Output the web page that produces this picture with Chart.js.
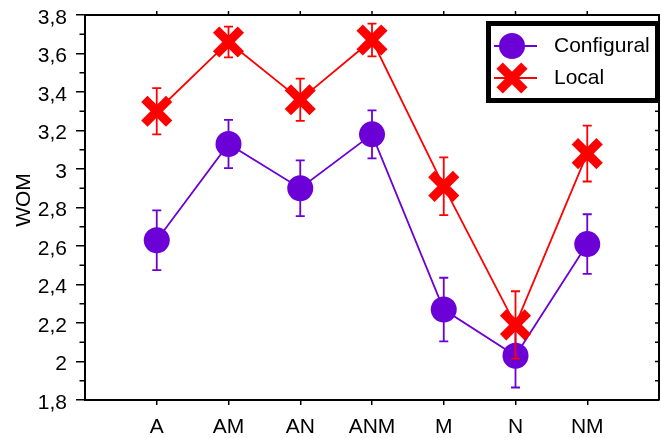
<!DOCTYPE html>
<html lang="en">
<head>
  <meta charset="UTF-8" />
  <title>WOM by condition</title>
  <script src="https://cdn.jsdelivr.net/npm/chart.js"></script>
  <style>
    html, body { margin: 0; padding: 0; background: #fff; }
    #wrap { width: 661px; height: 438px; }
  </style>
</head>
<body>
  <div id="wrap"><canvas id="womChart" width="661" height="438"></canvas></div>

  <script>
    // values
    const categories = ['A', 'AM', 'AN', 'ANM', 'M', 'N', 'NM'];
    const configural = [2.63, 3.13, 2.90, 3.18, 2.27, 2.03, 2.61];
    const configuralErr = [0.155, 0.125, 0.145, 0.125, 0.165, 0.165, 0.155];
    const local = [3.30, 3.66, 3.36, 3.67, 2.91, 2.19, 3.08];
    const localErr = [0.12, 0.08, 0.11, 0.085, 0.15, 0.175, 0.145];
    const yTicks = [1.8, 2.0, 2.2, 2.4, 2.6, 2.8, 3.0, 3.2, 3.4, 3.6, 3.8];

    const FONT = "'Liberation Sans', Arial, sans-serif";
    const PURPLE = '#6b00d7';
    const RED = '#ff0000';

    function fmtTick(v) {
      const r = Math.round(v * 10) / 10;
      return Number.isInteger(r) ? String(r) : r.toFixed(1).replace('.', ',');
    }

    const toPoints = vals => vals.map((v, i) => ({ x: i, y: v }));

    // error bars, frame ticks, axis title and boxed legend
    const extras = {
      id: 'extras',
      afterDatasetDraw(chart, args) {
        const ds = chart.data.datasets[args.index];
        const xs = chart.scales.x, ys = chart.scales.y;
        const ctx = chart.ctx;
        ctx.save();
        ctx.strokeStyle = ds.borderColor;
        ctx.lineWidth = 1.8;
        ds.data.forEach((p, i) => {
          const px = xs.getPixelForValue(p.x);
          const top = ys.getPixelForValue(p.y + ds.err[i]);
          const bot = ys.getPixelForValue(p.y - ds.err[i]);
          ctx.beginPath();
          ctx.moveTo(px, top); ctx.lineTo(px, bot);
          ctx.moveTo(px - 4.5, top); ctx.lineTo(px + 4.5, top);
          ctx.moveTo(px - 4.5, bot); ctx.lineTo(px + 4.5, bot);
          ctx.stroke();
        });
        ctx.restore();
      },
      afterDraw(chart) {
        const ctx = chart.ctx;
        const a = chart.chartArea;
        const xs = chart.scales.x, ys = chart.scales.y;
        ctx.save();
        ctx.strokeStyle = '#000';

        // top and right frame lines
        ctx.lineWidth = 2;
        ctx.beginPath();
        ctx.moveTo(a.left, a.top); ctx.lineTo(a.right, a.top); ctx.lineTo(a.right, a.bottom);
        ctx.stroke();

        // top ticks (outward) and minor ticks
        ctx.lineWidth = 1.5;
        ctx.beginPath();
        categories.forEach((c, i) => {
          const px = xs.getPixelForValue(i);
          ctx.moveTo(px, a.top); ctx.lineTo(px, a.top - 4);
        });
        for (let k = 19; k <= 37; k += 2) {
          const py = ys.getPixelForValue(k / 10);
          ctx.moveTo(a.left, py); ctx.lineTo(a.left - 5.5, py);
        }
        for (let k = 19; k <= 37; k++) {
          const py = ys.getPixelForValue(k / 10);
          ctx.moveTo(a.right, py); ctx.lineTo(a.right - 4, py);
        }
        ctx.stroke();

        // y axis title
        ctx.fillStyle = '#000';
        ctx.font = '21px ' + FONT;
        ctx.textAlign = 'center';
        ctx.textBaseline = 'middle';
        ctx.save();
        ctx.translate(24, 200);
        ctx.rotate(-Math.PI / 2);
        ctx.fillText('WOM', 0, 0);
        ctx.restore();

        // legend box
        ctx.lineWidth = 5;
        ctx.strokeRect(488.5, 23.5, 169, 77);
        const rows = [46, 78];
        chart.data.datasets.forEach((ds, i) => {
          const y = rows[i];
          ctx.strokeStyle = ds.borderColor;
          ctx.lineWidth = 1.8;
          ctx.beginPath();
          ctx.moveTo(494, y); ctx.lineTo(537, y);
          ctx.stroke();
          if (ds.pointStyle === 'circle') {
            ctx.fillStyle = ds.pointBackgroundColor;
            ctx.beginPath();
            ctx.arc(512, y, ds.pointRadius, 0, Math.PI * 2);
            ctx.fill();
          } else {
            const d = ds.pointRadius * Math.SQRT1_2;
            ctx.lineWidth = ds.pointBorderWidth;
            ctx.beginPath();
            ctx.moveTo(512 - d, y - d); ctx.lineTo(512 + d, y + d);
            ctx.moveTo(512 - d, y + d); ctx.lineTo(512 + d, y - d);
            ctx.stroke();
          }
          ctx.fillStyle = '#000';
          ctx.textAlign = 'left';
          ctx.fillText(ds.label, 554, y);
        });
        ctx.restore();
      }
    };

    new Chart(document.getElementById('womChart'), {
      type: 'line',
      data: {
        datasets: [
          {
            label: 'Configural',
            data: toPoints(configural),
            err: configuralErr,
            borderColor: PURPLE,
            borderWidth: 1.8,
            pointStyle: 'circle',
            pointRadius: 13,
            pointBackgroundColor: PURPLE,
            pointBorderWidth: 0,
            order: 2,
            clip: false
          },
          {
            label: 'Local',
            data: toPoints(local),
            err: localErr,
            borderColor: RED,
            borderWidth: 1.8,
            pointStyle: 'crossRot',
            pointRadius: 17.5,
            pointBorderColor: RED,
            pointBorderWidth: 9,
            order: 1,
            clip: false
          }
        ]
      },
      options: {
        responsive: false,
        animation: false,
        layout: { autoPadding: false, padding: { top: 15, right: 2, left: 0, bottom: 0 } },
        plugins: { legend: { display: false }, tooltip: { enabled: false } },
        scales: {
          x: {
            type: 'linear',
            min: -1,
            max: 7,
            afterBuildTicks: s => { s.ticks = categories.map((c, i) => ({ value: i })); },
            afterFit: s => { s.height = 38; s.paddingLeft = 0; s.paddingRight = 0; },
            grid: { drawOnChartArea: false, tickLength: 5, color: '#000', lineWidth: 1.5 },
            border: { color: '#000', width: 2 },
            ticks: {
              callback: v => categories[v] ?? '',
              autoSkip: false,
              maxRotation: 0,
              padding: 10,
              color: '#000',
              font: { family: FONT, size: 21 }
            }
          },
          y: {
            min: yTicks[0],
            max: yTicks[yTicks.length - 1],
            afterBuildTicks: s => { s.ticks = yTicks.map(v => ({ value: v })); },
            afterFit: s => { s.width = 85; s.paddingTop = 0; s.paddingBottom = 0; },
            grid: { drawOnChartArea: false, tickLength: 9, color: '#000', lineWidth: 1.5 },
            border: { color: '#000', width: 2 },
            ticks: {
              callback: fmtTick,
              padding: 9,
              labelOffset: 3,
              color: '#000',
              font: { family: FONT, size: 21 }
            }
          }
        }
      },
      plugins: [extras]
    });
  </script>
</body>
</html>
